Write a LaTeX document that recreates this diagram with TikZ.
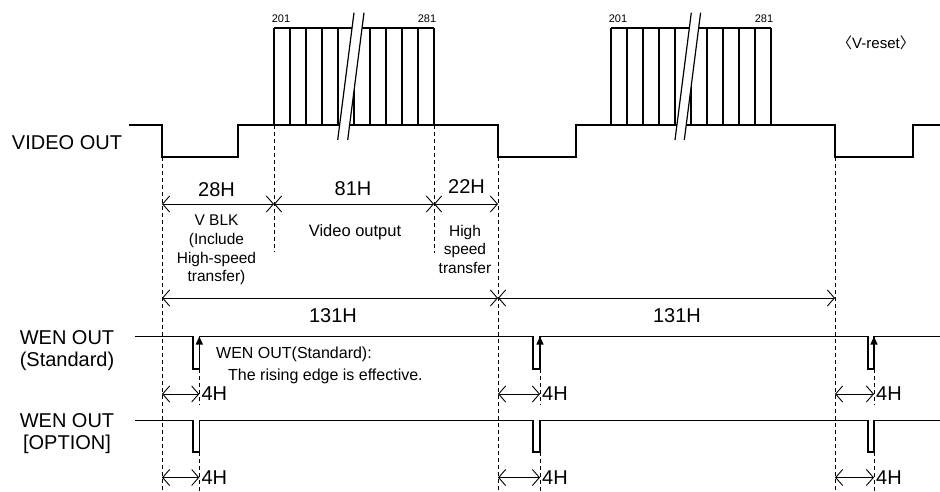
\documentclass[tikz,border=0pt]{standalone}
\usepackage{fontspec}
\setmainfont{Liberation Sans}
\newfontfamily\cjkfont{Noto Sans CJK JP}
\usetikzlibrary{arrows.meta}
\usetikzlibrary{calc}

\tikzset{
  sig/.style={line width=1.2pt},
  guide/.style={line width=0.9pt, dash pattern=on 4pt off 3pt},
  dim/.style={line width=0.9pt, {Straight Barb[length=7pt,width=16pt]}-{Straight Barb[length=7pt,width=16pt]}},
  edge/.style={line width=1.2pt, -{Triangle[length=8pt,width=7pt]}},
  big/.style={font=\fontsize{20}{22}\selectfont, align=center, inner sep=1pt},
  mid/.style={font=\fontsize{15.5}{18.7}\selectfont, align=center, inner sep=1pt},
  note/.style={font=\fontsize{16}{19}\selectfont, anchor=west, inner sep=1pt},
  tiny/.style={font=\fontsize{11}{13}\selectfont, inner sep=1pt},
}

\begin{document}
\begin{tikzpicture}[x=1pt, y=-1pt]
    \useasboundingbox (0,0) rectangle (940,491);

    % time marks and dimension rows
    \coordinate (tA) at (162,0);
    \coordinate (tB) at (274,0);
    \coordinate (tC) at (434,0);
    \coordinate (tD) at (498,0);
    \coordinate (tE) at (835,0);
    \coordinate (pA) at (199.3,0);
    \coordinate (pB) at (540,0);
    \coordinate (pC) at (874,0);
    \coordinate (rH) at (0,204);
    \coordinate (rF) at (0,298);
    \coordinate (rS) at (0,394);
    \coordinate (rO) at (0,477.5);

    % VIDEO OUT
    \draw[sig] (129,125) -- (162,125) -- (162,157) -- (238,157) -- (238,125) -- (498,125) -- (498,157) -- (576,157) -- (576,125) -- (835,125) -- (835,157) -- (913,157) -- (913,125) -- (940,125);
    \foreach \x/\sa/\sb in {274/337.7/347.7, 611/675/684.3} {
        \draw[sig] (\x,28) -- ++(160,0);
        \foreach \i in {0,...,10}
            \draw[sig] (\x+\i*16,28) -- (\x+\i*16,125);
        \fill[white] (\sa,140) -- (\sa+16.3,12.7) -- (\sb+16.3,12.7) -- (\sb,140) -- cycle;
        \draw[sig] (\sa,140) -- (\sa+16.3,12.7) (\sb,140) -- (\sb+16.3,12.7);
        \node[tiny] (first\x) at (\x+7,19) {201};
        \node[tiny] (last\x) at (\x+153,19) {281};
    }
    \node[font=\fontsize{15}{17}\selectfont, inner sep=1pt] (vreset) at (876,43) {{\cjkfont 〈}V-reset{\cjkfont 〉}};

    % WEN OUT
    \draw[sig] (135,336.5) -| (193,369) -| (pA|-0,336.5) -| (533,369) -| (pB|-0,336.5) -| (868,369) -| (pC|-0,336.5) -- (940,336.5);
    \foreach \p in {pA,pB,pC}
        \draw[edge] (\p|-0,369) -- (\p|-0,336.5);
    \draw[sig] (135,420.5) -| (193,452) -| (pA|-0,420.5) -| (533,452) -| (pB|-0,420.5) -| (868,452) -| (pC|-0,420.5) -- (940,420.5);

    % guides
    \draw[guide] (tA|-0,157) -- (tA|-0,491);
    \draw[guide] (tB|-0,125) -- (tB|-0,252);
    \draw[guide] (tC|-0,125) -- (tC|-0,253);
    \draw[guide] (tD|-0,157) -- (tD|-0,491);
    \draw[guide] (tE|-0,157) -- (tE|-0,491);
    \foreach \p in {pA,pB,pC} {
        \draw[guide] (\p|-0,369) -- (\p|-0,405);
        \draw[guide] (\p|-0,452) -- (\p|-0,491);
    }

    % dimensions
    \draw[dim] (tA|-rH) -- (tB|-rH);
    \draw[dim] (tB|-rH) -- (tC|-rH);
    \draw[dim] (tC|-rH) -- (tD|-rH);
    \draw[dim] (tA|-rF) -- (tD|-rF);
    \draw[dim] (tD|-rF) -- (tE|-rF);
    \foreach \t/\p in {tA/pA, tD/pB, tE/pC} {
        \draw[dim] (\t|-rS) -- (\p|-rS);
        \draw[dim] (\t|-rO) -- (\p|-rO);
        \node[big, anchor=west, inner sep=2pt] (std\p) at (\p|-rS) {4H};
        \node[big, anchor=west, inner sep=2pt] (opt\p) at (\p|-rO) {4H};
    }

    % labels
    \node[big] (video) at (67,143) {VIDEO OUT};
    \node[big] (wenstd) at (67,351) {WEN OUT\\(Standard)};
    \node[big] (wenopt) at (67,434) {WEN OUT\\ {[OPTION]}};
    \node[big] (h28) at (216.5,190) {28H};
    \node[big] (h81) at (353,189) {81H};
    \node[big] (h22) at (466.5,187) {22H};
    \node[big] (h131a) at (333,316) {131H};
    \node[big] (h131b) at (677,316) {131H};
    \node[mid] (vblk) at (216.5,250) {V BLK\\(Include\\High-speed\\transfer)};
    \node[mid, font=\fontsize{16.5}{19}\selectfont] (vout) at (355,232.7) {Video output};
    \node[mid] (hst) at (465,249.3) {High\\speed\\transfer};
    \node[note] (wen1) at (215,354) {WEN OUT(Standard):};
    \node[note] (wen2) at (227,376.7) {The rising edge is effective.};
\end{tikzpicture}
\end{document}
